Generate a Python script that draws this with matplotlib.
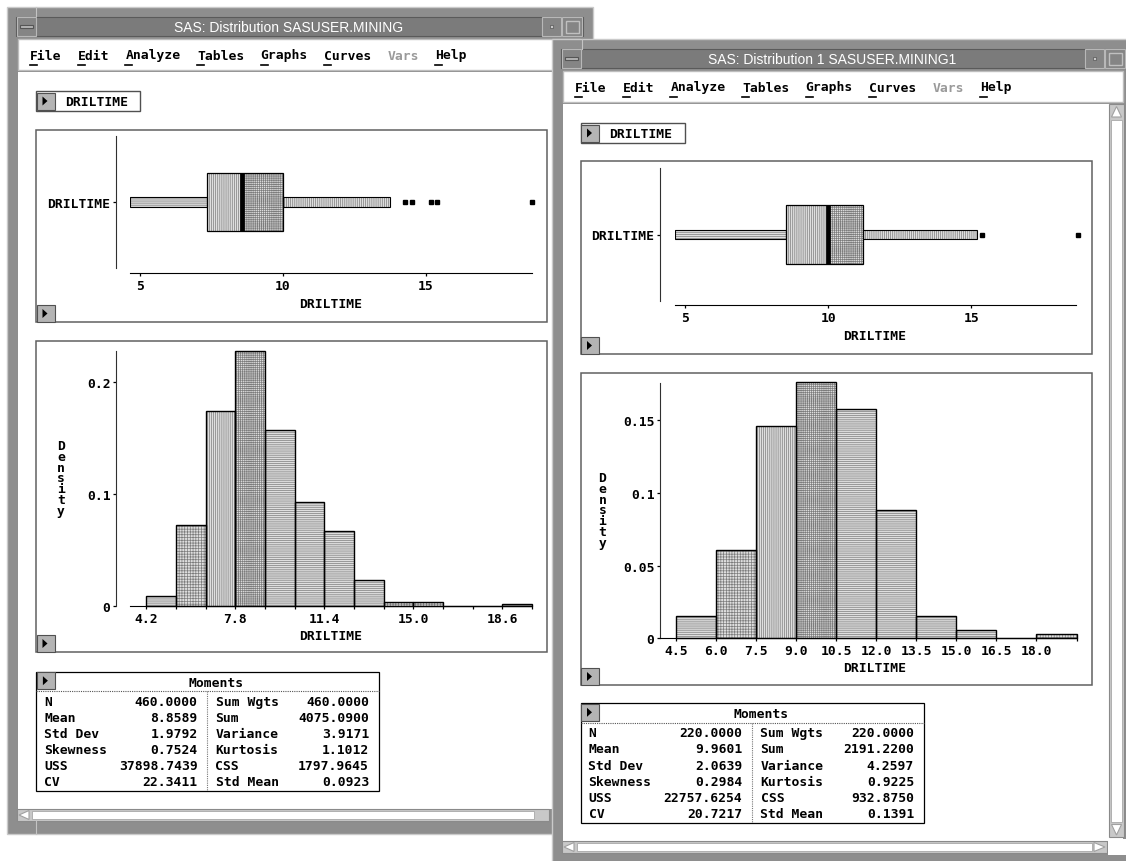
import matplotlib
matplotlib.use('Agg')
import matplotlib.pyplot as plt
from matplotlib.patches import Rectangle, Polygon

W, H = 1126, 862
MONO = 'DejaVu Sans Mono'
FS = 9.4

plt.rcParams['hatch.color'] = '#7c7c7c'
plt.rcParams['hatch.linewidth'] = 0.5

# ---- data ----------------------------------------------------------
var_name = 'DRILTIME'
menu_items = ['File', 'Edit', 'Analyze', 'Tables', 'Graphs', 'Curves', 'Vars', 'Help']
moment_names1 = ['N', 'Mean', 'Std Dev', 'Skewness', 'USS', 'CV']
moment_names2 = ['Sum Wgts', 'Sum', 'Variance', 'Kurtosis', 'CSS', 'Std Mean']

# window 1: SASUSER.MINING
title1 = 'SAS: Distribution SASUSER.MINING'
box1 = [4.65, 7.36, 8.57, 10.0, 13.74]          # whisker lo, Q1, median, Q3, whisker hi
outliers1 = [14.26, 14.53, 15.17, 15.40, 18.70]
box_ticks1 = [5, 10, 15]
hist_start1 = 4.2
hist_width1 = 1.2
density1 = [0.009, 0.072, 0.174, 0.228, 0.157, 0.093, 0.067, 0.023,
            0.0035, 0.0035, 0.0, 0.0, 0.0018]
hist_xlabels1 = [4.2, 7.8, 11.4, 15.0, 18.6]
hist_yticks1 = [0, 0.1, 0.2]
hist_ylabels1 = ['0', '0.1', '0.2']
moments1a = ['460.0000', '8.8589', '1.9792', '0.7524', '37898.7439', '22.3411']
moments1b = ['460.0000', '4075.0900', '3.9171', '1.1012', '1797.9645', '0.0923']

# window 2: SASUSER.MINING1
title2 = 'SAS: Distribution 1 SASUSER.MINING1'
box2 = [4.65, 8.54, 10.0, 11.22, 15.18]
outliers2 = [15.37, 18.72]
box_ticks2 = [5, 10, 15]
hist_start2 = 4.5
hist_width2 = 1.5
density2 = [0.015, 0.061, 0.146, 0.176, 0.158, 0.088, 0.015, 0.006, 0.0, 0.003]
hist_xlabels2 = [4.5, 6.0, 7.5, 9.0, 10.5, 12.0, 13.5, 15.0, 16.5, 18.0]
hist_yticks2 = [0, 0.05, 0.1, 0.15]
hist_ylabels2 = ['0', '0.05', '0.1', '0.15']
moments2a = ['220.0000', '9.9601', '2.0639', '0.2984', '22757.6254', '20.7217']
moments2b = ['220.0000', '2191.2200', '4.2597', '0.9225', '932.8750', '0.1391']

# ---- canvas --------------------------------------------------------
fig = plt.figure(figsize=(W / 100, H / 100), dpi=100)
scr = fig.add_axes([0, 0, 1, 1])
scr.set_xlim(0, W)
scr.set_ylim(H, 0)
scr.axis('off')

FILL = '#dedede'
hatches = ['--------', '++++++', '||||||||', '++++++++', '--------', '--------', '--------',
           '--------', '++++++', '++++++', '--------', '--------', '--------']


def rect(x0, y0, x1, y1, fc, ec='none', lw=0.8, zorder=1, **kw):
    scr.add_patch(Rectangle((x0, y0), x1 - x0, y1 - y0, facecolor=fc,
                            edgecolor=ec, linewidth=lw, zorder=zorder, **kw))


def tri(pts, fc='black', ec='none'):
    scr.add_patch(Polygon(pts, closed=True, facecolor=fc, edgecolor=ec, linewidth=0.8))


def mono(x, y, s, ha='left', color='black', **kw):
    scr.text(x, y, s, ha=ha, va='center', fontsize=FS, family=MONO,
             fontweight='bold', color=color, **kw)


def px_axes(x0, y0, x1, y1):
    a = fig.add_axes([x0 / W, 1 - y1 / H, (x1 - x0) / W, (y1 - y0) / H])
    a.set_facecolor('none')
    return a


def arrow_button(x, y):
    rect(x, y, x + 18, y + 17, '#b4b4b4', '#505050', 0.8)
    tri([(x + 6, y + 4), (x + 6, y + 13), (x + 11, y + 8.5)])


def window(x0, y0, x1, y1, title, title_cx, hs_right):
    rect(x0, y0, x1, y1, '#8e8e8e', '#cacaca', 1)
    rect(x0 + 9, y0 + 9.5, x1 - 10, y0 + 29, '#7b7b7b', '#5a5a5a')
    # title buttons
    rect(x0 + 10, y0 + 10, x0 + 29, y0 + 28.5, '#858585', '#b8b8b8')
    rect(x0 + 13, y0 + 17.5, x0 + 26, y0 + 20.5, '#b4b4b4', '#555555')
    rect(x1 - 51, y0 + 10, x1 - 32, y0 + 28.5, '#858585', '#b8b8b8')
    rect(x1 - 43, y0 + 18, x1 - 40, y0 + 21, '#c8c8c8', '#555555', 0.5)
    rect(x1 - 31, y0 + 10, x1 - 11, y0 + 28.5, '#858585', '#b8b8b8')
    rect(x1 - 27, y0 + 13.5, x1 - 14, y0 + 26, 'none', '#c0c0c0', 1)
    scr.text(title_cx, y0 + 19.5, title, ha='center', va='center', color='white',
             fontsize=10, family='Liberation Sans')
    # menu bar
    rect(x0 + 11, y0 + 32, x1 - 13, y0 + 63, 'white', '#bdbdbd', 1)
    x = x0 + 23
    for item in menu_items:
        col = '#9a9a9a' if item == 'Vars' else 'black'
        mono(x, y0 + 48, item, color=col)
        if item != 'Vars':
            scr.plot([x, x + 7], [y0 + 57.5, y0 + 57.5], color='black', lw=1.2)
        x += (len(item) + 2) * 7.95
    # content + horizontal scroll bar
    rect(x0 + 11, y0 + 65, x1 - 13, y1 - 25, 'white')
    rect(x0 + 10, y1 - 25, hs_right, y1 - 13, '#c8c8c8', '#8a8a8a')
    rect(x0 + 25, y1 - 23, hs_right - 15, y1 - 15, 'white', '#a8a8a8', 0.6)
    tri([(x0 + 12, y1 - 19), (x0 + 22, y1 - 23.5), (x0 + 22, y1 - 14.5)], 'white', '#a0a0a0')


def drilbox(x, y):
    rect(x, y, x + 104, y + 20, 'white', '#505050', 1)
    arrow_button(x + 0.5, y + 1.5)
    mono(x + 29, y + 10.5, var_name)


def style_axes(ax):
    for s in ['top', 'right']:
        ax.spines[s].set_visible(False)
    ax.spines['left'].set_color('#303030')
    ax.tick_params(length=2.5, width=0.9, pad=1.5, color='black')
    for lab in ax.get_xticklabels() + ax.get_yticklabels():
        lab.set_family(MONO)
        lab.set_fontweight('bold')
        lab.set_fontsize(FS)


def boxplot(x0, y0, x1, y1, xlim, stats, outliers, ticks, left_out, bottom_out):
    ax = px_axes(x0, y0, x1, y1)
    lo, q1, med, q3, hi = stats
    bh, wh = 0.89, 0.14
    for left, width, h, hatch in [(lo, q1 - lo, wh, '--------'), (q3, hi - q3, wh, '||||||||'),
                                  (q1, med - q1, bh, '||||||||'), (med, q3 - med, bh, '++++++++')]:
        ax.barh(0, width, left=left, height=h, color=FILL, linewidth=0, hatch=hatch)
    ax.barh(0, q3 - q1, left=q1, height=bh, fill=False, edgecolor='black', linewidth=0.9)
    ax.barh(0, q1 - lo, left=lo, height=wh, fill=False, edgecolor='black', linewidth=0.8)
    ax.barh(0, hi - q3, left=q3, height=wh, fill=False, edgecolor='black', linewidth=0.8)
    ax.plot([med, med], [-bh / 2, bh / 2], color='black', lw=3.4, solid_capstyle='butt')
    ax.plot(outliers, [0] * len(outliers), 's', color='black', ms=2.6, clip_on=False)
    ax.set_xlim(*xlim)
    ax.set_ylim(-1, 1)
    ax.set_xticks(ticks)
    ax.set_xticklabels([str(t) for t in ticks])
    ax.set_yticks([0])
    ax.set_yticklabels([var_name])
    ax.spines['left'].set_position(('outward', left_out * 0.72))
    ax.spines['bottom'].set_position(('outward', bottom_out * 0.72))
    style_axes(ax)


def histogram(x0, y0, x1, y1, xlim, ylim, start, width, dens, xlabels,
              yticks, ylabels, left_out):
    ax = px_axes(x0, y0, x1, y1)
    edges = [start + i * width for i in range(len(dens))]
    bars = ax.bar(edges, dens, width=width, align='edge', color=FILL, linewidth=0)
    for b, h in zip(bars, hatches):
        b.set_hatch(h)
        b.set_clip_on(False)
    outl = ax.bar(edges, dens, width=width, align='edge', fill=False, edgecolor='black',
                  linewidth=1.0)
    for b in outl:
        b.set_clip_on(False)
    tick_pos = edges + [edges[-1] + width]
    ax.set_xticks(tick_pos)
    ax.set_xticklabels(['%.1f' % t if any(abs(t - l) < 1e-6 for l in xlabels) else ''
                        for t in tick_pos])
    ax.set_yticks(yticks)
    ax.set_yticklabels(ylabels)
    ax.set_xlim(*xlim)
    ax.set_ylim(*ylim)
    ax.spines['left'].set_position(('outward', left_out * 0.72))
    style_axes(ax)


def vertical_label(x, y, s):
    scr.text(x, y, '\n'.join(s), ha='center', va='top', fontsize=FS, family=MONO,
             fontweight='bold', linespacing=0.78)


def moments_table(x0, y0, x1, xdiv, v1, v2):
    rect(x0, y0, x1, y0 + 119.5, 'white', 'black', 0.9)
    scr.plot([x0, x1], [y0 + 19.5, y0 + 19.5], color='#555555', lw=0.8, ls=(0, (1, 1)))
    scr.plot([xdiv, xdiv], [y0 + 19.5, y0 + 119.5], color='#777777', lw=0.8, ls=(0, (1, 1)))
    arrow_button(x0 + 0.5, y0 + 0.5)
    mono(xdiv + 9, y0 + 10.5, 'Moments', ha='center')
    for i in range(len(moment_names1)):
        yy = y0 + 29.6 + i * 16.1
        mono(x0 + 8, yy, moment_names1[i])
        mono(xdiv - 9.5, yy, v1[i], ha='right')
        mono(xdiv + 8.5, yy, moment_names2[i])
        mono(x1 - 9.5, yy, v2[i], ha='right')


# ---- left window ---------------------------------------------------
window(7, 8, 593, 835, title1, 289, 549)
scr.plot([36, 36], [8, 17], color='#c4c4c4', lw=0.8)
scr.plot([36, 36], [822, 835], color='#c4c4c4', lw=0.8)
drilbox(36, 92)

rect(36, 131, 547, 323, 'white', '#606060', 1.1)
arrow_button(36.5, 306)
boxplot(130, 137, 532, 269, (4.65, 18.71), box1, outliers1, box_ticks1, 14, 5)
mono(331, 305, var_name, ha='center')

rect(36, 342, 547, 653, 'white', '#606060', 1.1)
arrow_button(36.5, 636)
histogram(130, 352, 532, 607, (3.54, 19.8), (0, 0.2277), hist_start1, hist_width1,
          density1, hist_xlabels1, hist_yticks1, hist_ylabels1, 14)
mono(331, 637, var_name, ha='center')
vertical_label(61, 440, 'Density')

moments_table(36.4, 672.7, 378.6, 207, moments1a, moments1b)

# ---- right window --------------------------------------------------
window(552, 40, 1136, 867, title2, 832, 1107)
scr.plot([582, 582], [40, 50], color='#c4c4c4', lw=0.8)
# vertical scroll bar and corner
rect(1109, 105, 1124, 838, '#c8c8c8', '#8a8a8a')
rect(1111, 121, 1122, 823, 'white', '#a8a8a8', 0.6)
tri([(1116.5, 107.5), (1111.5, 118), (1121.5, 118)], 'white', '#a0a0a0')
tri([(1116.5, 836), (1111.5, 825.5), (1121.5, 825.5)], 'white', '#a0a0a0')
tri([(1105, 848), (1094, 843.5), (1094, 852.5)], 'white', '#a0a0a0')
rect(1108, 840, 1126, 856, 'white')
drilbox(580.5, 124)

rect(580.5, 162, 1092, 355, 'white', '#606060', 1.1)
arrow_button(581, 338)
boxplot(675, 169, 1076, 302, (4.65, 18.65), box2, outliers2, box_ticks2, 15, 4)
mono(875, 337, var_name, ha='center')

rect(580.5, 374, 1092, 686, 'white', '#606060', 1.1)
arrow_button(581, 669)
histogram(660, 384, 1076.5, 639.3, (3.91, 19.5), (0, 0.1756), hist_start2, hist_width2,
          density2, hist_xlabels2, hist_yticks2, hist_ylabels2, 0)
mono(875, 669, var_name, ha='center')
vertical_label(602.5, 472, 'Density')

moments_table(580.5, 704.3, 923.6, 752, moments2a, moments2b)

fig.savefig('out.png', dpi=100)
